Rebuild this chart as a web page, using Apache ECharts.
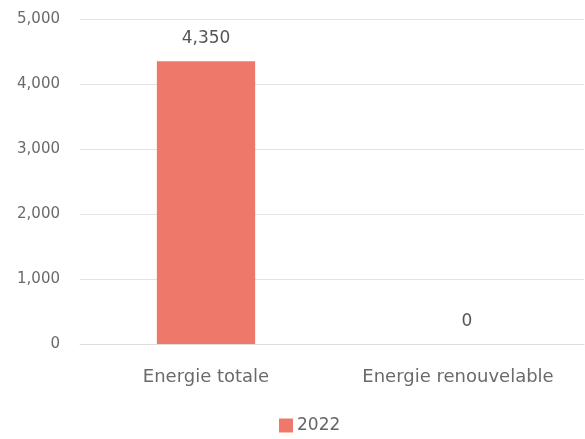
<!DOCTYPE html>
<html>
<head>
<meta charset="utf-8">
<script src="https://cdn.jsdelivr.net/npm/echarts@6/dist/echarts.min.js"></script>
<style>
  html, body { margin: 0; padding: 0; background: #fff; }
  #chart { width: 585px; height: 439px; }
</style>
</head>
<body>
<div id="chart"></div>
<script>
// Energy consumption by type, year 2022
const categories = ['Energie totale', 'Energie renouvelable'];
const seriesName = '2022';
const values = [4350, 0];
const yTicks = { min: 0, max: 5000, interval: 1000 };

const chart = echarts.init(document.getElementById('chart'), null, { renderer: 'canvas' });
const fontFamily = '"DejaVu Sans", sans-serif';

// zero-height bars get their label nudged slightly right
const barData = values.map(v => v === 0
  ? { value: v, label: { offset: [9, 0] } }
  : { value: v });

chart.setOption({
  animation: false,
  textStyle: { fontFamily },
  grid: { left: 80, right: 1, top: 19, bottom: 95, containLabel: false },
  legend: {
    bottom: 0,
    left: 274,
    itemWidth: 14,
    itemHeight: 14,
    itemGap: 5,
    icon: 'rect',
    textStyle: { color: '#666', fontSize: 17, fontFamily, padding: [0, 0, 0, -1] },
    data: [seriesName]
  },
  xAxis: {
    type: 'category',
    data: categories,
    axisTick: { show: false },
    axisLine: { lineStyle: { color: '#ddd', width: 1 } },
    axisLabel: { color: '#6a6a6a', fontSize: 18, margin: 24, fontFamily }
  },
  yAxis: {
    type: 'value',
    min: yTicks.min,
    max: yTicks.max,
    interval: yTicks.interval,
    axisLine: { show: false },
    axisTick: { show: false },
    splitLine: { lineStyle: { color: '#e3e3e3', width: 1 } },
    axisLabel: {
      color: '#6a6a6a',
      fontSize: 15,
      margin: 20,
      fontFamily,
      formatter: v => v.toLocaleString('en-US')
    }
  },
  series: [{
    name: seriesName,
    type: 'bar',
    data: barData,
    barWidth: '39%',
    itemStyle: { color: '#EE7869' },
    label: {
      show: true,
      position: 'top',
      distance: 14,
      color: '#555',
      fontSize: 17,
      fontFamily,
      formatter: p => p.value.toLocaleString('en-US')
    }
  }]
});
</script>
</body>
</html>
